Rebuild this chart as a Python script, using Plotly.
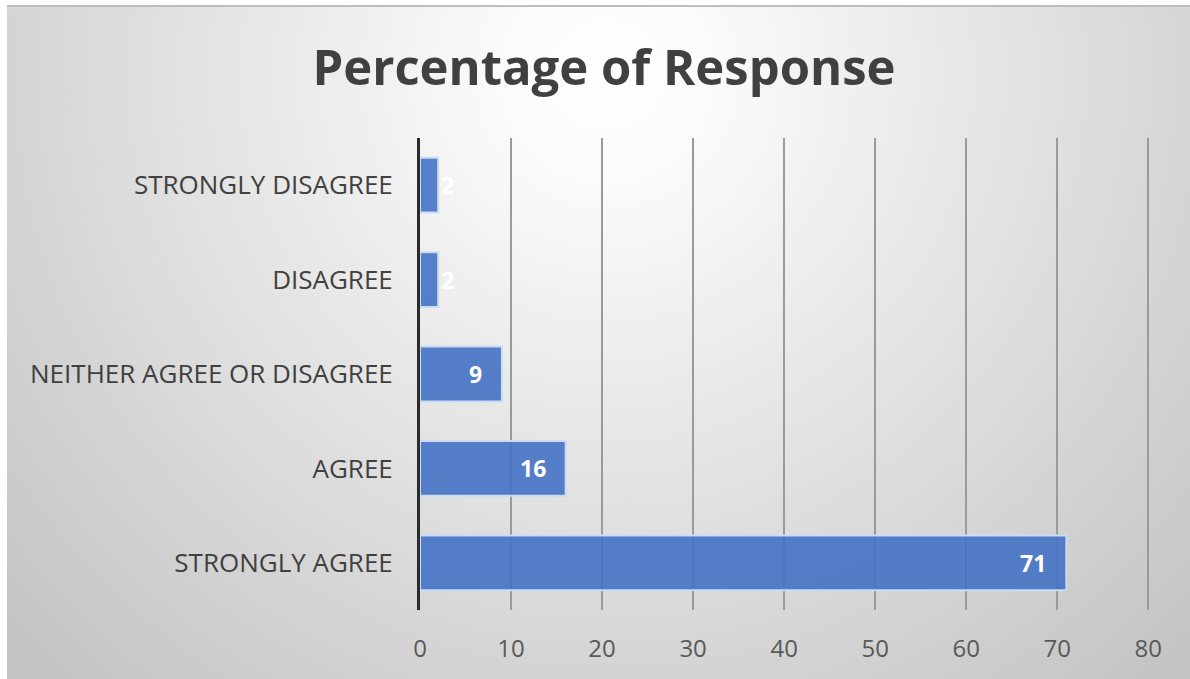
import base64
import plotly.graph_objects as go

# Survey response shares (percent), bottom-to-top order on the chart
categories = ["STRONGLY AGREE", "AGREE", "NEITHER AGREE OR DISAGREE", "DISAGREE", "STRONGLY DISAGREE"]
percentages = [71, 16, 9, 2, 2]
x_ticks = [0, 10, 20, 30, 40, 50, 60, 70, 80]

W, H = 1190, 679
X_MAX = 80.3                      # a touch past 80 so the last gridline is kept
PX_PER_UNIT = (1148 - 420) / 80
L, T, B = 420, 138, 610           # plot area in pixels
R = round(L + X_MAX * PX_PER_UNIT)

# soft radial backdrop for the chart card
svg = """<svg xmlns='http://www.w3.org/2000/svg' width='1183' height='673' viewBox='0 0 1183 673' preserveAspectRatio='none'>
<defs><radialGradient id='g' gradientUnits='userSpaceOnUse' cx='600' cy='70' r='820'>
<stop offset='0' stop-color='#ffffff'/><stop offset='0.12' stop-color='#fbfbfb'/>
<stop offset='1' stop-color='#c3c3c3'/></radialGradient></defs>
<rect width='1183' height='673' fill='url(#g)'/></svg>"""
bg_src = "data:image/svg+xml;base64," + base64.b64encode(svg.encode()).decode()

def px_x(p):
    return (p - L) / (R - L)

def px_y(p):
    return (B - p) / (B - T)

fig = go.Figure()
fig.add_trace(go.Bar(
    x=percentages,
    y=categories,
    orientation="h",
    width=0.58,
    marker=dict(color="rgba(68,114,196,0.9)", line=dict(color="#c9dcf3", width=2)),
    hoverinfo="x+y",
))

annotations = []
for v, c in zip(percentages, categories):
    fits = v >= 5
    annotations.append(dict(
        x=v, y=c, xref="x", yref="y", text=f"<b>{v}</b>", showarrow=False,
        xanchor="right" if fits else "left", xshift=-18 if fits else 1,
        font=dict(family="Open Sans", size=23, color="white"),
    ))

fig.update_layout(
    width=W, height=H,
    margin=dict(l=L, r=W - R, t=T, b=H - B, pad=0),
    paper_bgcolor="white",
    plot_bgcolor="rgba(0,0,0,0)",
    showlegend=False,
    title=dict(
        text="<b>Percentage of Response</b>",
        x=px_x(604), xref="paper", xanchor="center",
        y=1 - 68 / H, yref="container", yanchor="middle",
        font=dict(family="Open Sans", size=49, color="#404040"),
    ),
    xaxis=dict(
        range=[0, X_MAX], tickvals=x_ticks, showgrid=True,
        gridcolor="#9a9a9a", gridwidth=2, zeroline=False, showline=False,
        ticks="", ticklabelstandoff=22,
        tickfont=dict(family="Open Sans", size=24, color="#595959"),
        fixedrange=True,
    ),
    yaxis=dict(
        categoryorder="array", categoryarray=categories,
        showgrid=False, zeroline=False, showline=True,
        linecolor="#2b2b2b", linewidth=3, ticks="", ticklabelstandoff=19,
        tickfont=dict(family="Open Sans", size=26, color="#404040"),
        fixedrange=True,
    ),
    images=[dict(
        source=bg_src, xref="paper", yref="paper",
        x=px_x(7), y=px_y(6), sizex=(W - 7) / (R - L), sizey=(H - 6) / (B - T),
        xanchor="left", yanchor="top", sizing="stretch", layer="below",
    )],
    shapes=[dict(
        type="line", xref="paper", yref="paper",
        x0=px_x(7), x1=px_x(W), y0=px_y(6), y1=px_y(6),
        line=dict(color="#bdbdbd", width=2),
    )],
    annotations=annotations,
)

fig.write_html("out.html")
